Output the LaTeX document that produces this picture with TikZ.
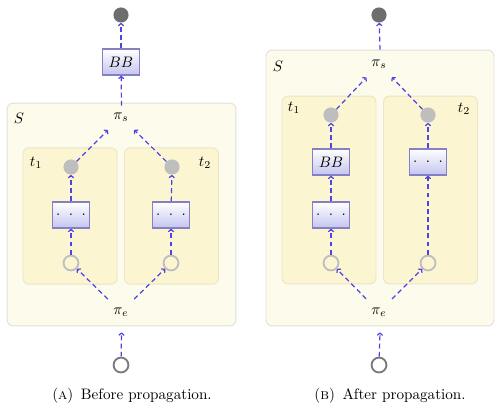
\documentclass[tikz,border=0pt]{standalone}
\usetikzlibrary{arrows.meta}
\definecolor{arrblue}{RGB}{78,68,228}
\definecolor{sfill}{RGB}{253,251,236}
\definecolor{sdraw}{RGB}{226,224,212}
\definecolor{tfill}{RGB}{252,245,210}
\definecolor{tdraw}{RGB}{236,228,200}
\definecolor{boxdraw}{RGB}{132,128,196}
\definecolor{boxbot}{RGB}{196,196,240}
\definecolor{darkdot}{RGB}{110,110,110}
\definecolor{lightdot}{RGB}{190,190,190}
\definecolor{botring}{RGB}{122,122,122}
\newcommand{\mydots}{$\cdot\hspace{3.4pt}\cdot\hspace{3.4pt}\cdot$}
\tikzset{
  flow/.style={draw=arrblue, line width=0.8pt, dash pattern=on 3.2pt off 2.2pt, -{To[length=2.2pt,width=4pt]}},
  sbox/.style={draw=sdraw, fill=sfill, rounded corners=4pt, line width=0.6pt, minimum width=#1},
  tbox/.style={draw=tdraw, fill=tfill, rounded corners=4pt, line width=0.6pt, minimum width=62pt},
  opbox/.style={draw=boxdraw, line width=1pt, top color=white, bottom color=boxbot, minimum width=24.4pt, minimum height=17.2pt, inner sep=0pt},
  darkc/.style={circle, fill=darkdot, minimum size=10pt, inner sep=0pt},
  greyc/.style={circle, fill=lightdot, minimum size=10pt, inner sep=0pt},
  ringc/.style={circle, draw=lightdot, fill=tfill, line width=1.2pt, minimum size=9.8pt, inner sep=0pt},
  botc/.style={circle, draw=botring, fill=white, line width=1.2pt, minimum size=9.8pt, inner sep=0pt},
  pinode/.style={circle, minimum size=24pt, inner sep=0pt},
  lbl/.style={inner sep=0pt},
}
\begin{document}
\begin{tikzpicture}[x=0.66pt, y=-0.66pt]
\useasboundingbox (0,0) rectangle (499,411);
% ---------- left panel ----------
\node[sbox=151pt, minimum height=147pt] (SL) at (121.5,214.5) {};
\node[tbox, minimum height=90pt] (TL1) at (70,216) {};
\node[tbox, minimum height=90pt] (TL2) at (171.5,216) {};
\node[lbl] (SLl) at (19,118) {$S$};
\node[lbl] (TL1l) at (36,163) {$t_1$};
\node[lbl] (TL2l) at (205,163) {$t_2$};
\node[pinode] (PSL) at (121,117) {$\pi_s$};
\node[pinode] (PEL) at (121,312) {$\pi_e$};
\node[darkc] (TopL) at (121,15) {};
\node[opbox] (BBL) at (121,62) {$BB$};
\node[greyc] (GL1) at (71,167) {};
\node[greyc] (GL2) at (172,167) {};
\node[opbox] (DL1) at (71,215) {\mydots};
\node[opbox] (DL2) at (171,215) {\mydots};
\node[ringc] (HL1) at (71,263) {};
\node[ringc] (HL2) at (171,263) {};
\node[botc] (BotL) at (121,365) {};
\draw[flow] (BotL) -- ([yshift=-4pt]SL.south);
\draw[flow] (PEL) -- (HL1);
\draw[flow] (PEL) -- (HL2);
\draw[flow] (HL1) -- (DL1);
\draw[flow] (HL2) -- (DL2);
\draw[flow] (DL1) -- (GL1);
\draw[flow] (DL2) -- (GL2);
\draw[flow] (GL1) -- (PSL);
\draw[flow] (GL2) -- (PSL);
\draw[flow] ([yshift=-2pt]SL.north) -- (BBL);
\draw[flow] (BBL) -- (TopL);
\node[lbl] (CapA) at (132,396) {(\textsc{a})\enspace Before propagation.};
% ---------- right panel ----------
\node[sbox=150.5pt, minimum height=182pt] (SR) at (380,188) {};
\node[tbox, minimum height=124pt] (TR1) at (329,190) {};
\node[tbox, minimum height=124pt] (TR2) at (430.5,190) {};
\node[lbl] (SRl) at (278,66) {$S$};
\node[lbl] (TR1l) at (294,108) {$t_1$};
\node[lbl] (TR2l) at (464,109) {$t_2$};
\node[pinode] (PSR) at (379,64) {$\pi_s$};
\node[pinode] (PER) at (379,312) {$\pi_e$};
\node[darkc] (TopR) at (379,15) {};
\node[greyc] (GR1) at (331,115) {};
\node[greyc] (GR2) at (428,115) {};
\node[opbox] (BBR) at (331,162) {$BB$};
\node[opbox] (DR2) at (428,162) {\mydots};
\node[opbox] (DR1) at (331,215) {\mydots};
\node[ringc] (HR1) at (331,263) {};
\node[ringc] (HR2) at (428,263) {};
\node[botc] (BotR) at (379,365) {};
\draw[flow] (BotR) -- ([yshift=-4pt]SR.south);
\draw[flow] (PER) -- (HR1);
\draw[flow] (PER) -- (HR2);
\draw[flow] (HR1) -- (DR1);
\draw[flow] (DR1) -- (BBR);
\draw[flow] (HR2) -- (DR2);
\draw[flow] (BBR) -- (GR1);
\draw[flow] (DR2) -- (GR2);
\draw[flow] (GR1) -- (PSR);
\draw[flow] (GR2) -- (PSR);
\draw[flow] (SR.north) -- (TopR);
\node[lbl] (CapB) at (390,396) {(\textsc{b})\enspace After propagation.};
\end{tikzpicture}
\end{document}
